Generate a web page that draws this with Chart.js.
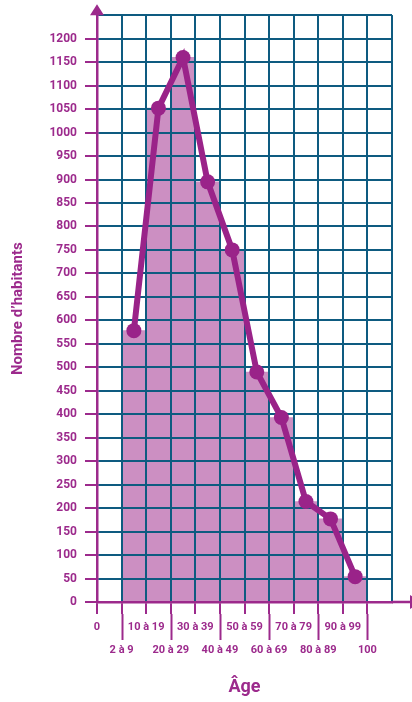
<!DOCTYPE html>
<html>
<head>
  <title>Nombre d'habitants par âge</title>
  <script src="https://cdn.jsdelivr.net/npm/chart.js"></script>
  <style>
    body { margin: 0; background: #ffffff; }
  </style>
</head>
<body>
  <canvas id="ageChart" width="412" height="702"></canvas>

  <script>
    // axis tick labels (one per grid line on x)
    const tickLabels = ["0", "2 à 9", "10 à 19", "20 à 29", "30 à 39", "40 à 49",
                        "50 à 59", "60 à 69", "70 à 79", "80 à 89", "90 à 99", "100"];
    // age classes (bars sit between two ticks, starting at "2 à 9")
    const classes = ["2 à 9", "10 à 19", "20 à 29", "30 à 39", "40 à 49",
                     "50 à 59", "60 à 69", "70 à 79", "80 à 89", "90 à 99"];
    const habitants = [578, 1052, 1160, 895, 750, 490, 393, 214, 177, 54];

    const purple = "#9c2a8c";
    const lineColor = "#9a2389";
    const barColor = "#cc8fc2";
    const gridColor = "#0e5b80";
    const font = '"Roboto", "Liberation Sans", sans-serif';

    // bar i covers [i+1, i+2] on the linear x axis
    const points = habitants.map((v, i) => ({ x: tickLabels.indexOf(classes[i]) + 0.5, y: v }));

    const extras = {
      id: "extras",
      afterDatasetDraw(chart, args) {
        // grid lies over the bars but under the polygon
        if (args.index !== 0) return;
        chart.scales.x.drawGrid(chart.chartArea);
        chart.scales.y.drawGrid(chart.chartArea);
      },
      afterDraw(chart) {
        const c = chart.ctx;
        const xs = chart.scales.x;
        const area = chart.chartArea;
        c.save();
        c.strokeStyle = purple;
        c.fillStyle = purple;
        c.lineWidth = 2;
        // longer ticks for the lower row of labels
        tickLabels.forEach((lab, i) => {
          if (i % 2 === 1) {
            const px = Math.round(xs.getPixelForValue(i)) + 0.5;
            c.beginPath();
            c.moveTo(px, area.bottom + 12);
            c.lineTo(px, area.bottom + 38);
            c.stroke();
          }
        });
        // axis extensions and arrows
        c.lineWidth = 2.5;
        c.beginPath();
        c.moveTo(area.left, area.top);
        c.lineTo(area.left, area.top - 6);
        c.moveTo(area.right, area.bottom);
        c.lineTo(area.right + 18, area.bottom);
        c.stroke();
        c.beginPath();
        c.moveTo(area.left, area.top - 11);
        c.lineTo(area.left - 7, area.top);
        c.lineTo(area.left + 7, area.top);
        c.closePath();
        c.fill();
        c.beginPath();
        c.moveTo(area.right + 18, area.bottom - 7);
        c.lineTo(area.right + 29, area.bottom);
        c.lineTo(area.right + 18, area.bottom + 7);
        c.closePath();
        c.fill();
        c.restore();
      }
    };

    new Chart(document.getElementById("ageChart"), {
      type: "bar",
      data: {
        datasets: [
          {
            type: "bar",
            label: "Habitants",
            data: points,
            backgroundColor: barColor,
            borderWidth: 0,
            barPercentage: 1,
            categoryPercentage: 1,
            order: 1
          },
          {
            type: "line",
            label: "Polygone",
            data: points,
            borderColor: lineColor,
            backgroundColor: lineColor,
            borderWidth: 6,
            pointRadius: 7.5,
            pointBackgroundColor: lineColor,
            pointBorderWidth: 0,
            tension: 0,
            order: 0
          }
        ]
      },
      options: {
        responsive: false,
        animation: false,
        layout: { padding: { top: 14, right: 20, left: 0, bottom: 0 } },
        plugins: { legend: { display: false }, tooltip: { enabled: false } },
        scales: {
          x: {
            type: "linear",
            min: 0,
            max: 12,
            offset: false,
            afterFit: (s) => { s.height = 100; },
            afterBuildTicks: (s) => { s.ticks = Array.from({ length: 13 }, (_, i) => ({ value: i })); },
            grid: {
              offset: false,
              lineWidth: 2,
              color: (ctx) => ctx.tick && ctx.tick.value === 0 ? "transparent" : gridColor,
              tickColor: (ctx) => ctx.tick && ctx.tick.value >= tickLabels.length ? "transparent" : purple,
              tickLength: 12,
              tickWidth: 2
            },
            border: { color: purple, width: 2.5, z: 1 },
            ticks: {
              autoSkip: false,
              maxRotation: 0,
              padding: 2,
              color: purple,
              font: { family: font, size: 11, weight: "bold", lineHeight: "23px" },
              callback: (v) => {
                const lab = tickLabels[v];
                if (lab === undefined) return "";
                return v % 2 === 0 ? [lab, ""] : ["", lab];
              }
            },
            title: {
              display: true,
              text: "Âge",
              color: purple,
              font: { family: font, size: 18, weight: "bold" },
              padding: { top: 0, bottom: 4 }
            }
          },
          y: {
            min: 0,
            max: 1250,
            afterFit: (s) => { s.width = 97; },
            grid: {
              lineWidth: 2,
              color: (ctx) => ctx.tick && ctx.tick.value === 0 ? "transparent" : gridColor,
              tickColor: (ctx) => ctx.tick && ctx.tick.value === 1250 ? "transparent" : purple,
              tickLength: 12,
              tickWidth: 2
            },
            border: { color: purple, width: 2.5, z: 1 },
            ticks: {
              stepSize: 50,
              padding: 8,
              color: purple,
              font: { family: font, size: 12, weight: "bold" },
              callback: (v) => v === 1250 ? "" : v
            },
            title: {
              display: true,
              text: "Nombre d’habitants",
              color: purple,
              font: { family: font, size: 15, weight: "bold" },
              padding: { top: 9 }
            }
          }
        }
      },
      plugins: [extras]
    });
  </script>
</body>
</html>
